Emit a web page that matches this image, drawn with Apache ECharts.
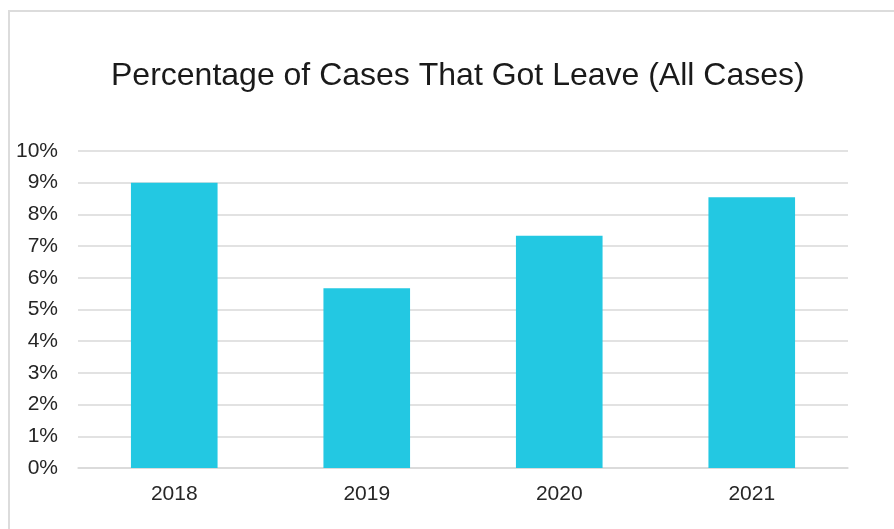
<!DOCTYPE html>
<html>
<head>
<meta charset="utf-8">
<script src="https://cdn.jsdelivr.net/npm/echarts@6/dist/echarts.min.js"></script>
<style>
html,body{margin:0;padding:0;background:#fff;}
#frame{position:absolute;left:8px;top:10px;width:900px;height:540px;border:2px solid #dcdcdc;box-sizing:border-box;}
#chart{position:absolute;left:0;top:0;width:894px;height:529px;}
</style>
</head>
<body>
<div id="frame"></div>
<div id="chart"></div>
<script>
const categories = ['2018', '2019', '2020', '2021'];
const values = [9.0, 5.67, 7.33, 8.54];
const yTicks = [0, 1, 2, 3, 4, 5, 6, 7, 8, 9, 10];

const chart = echarts.init(document.getElementById('chart'));
chart.setOption({
  animation: false,
  title: {
    text: 'Percentage of Cases That Got Leave (All Cases)',
    left: 106, top: 55,
    textStyle: {fontFamily: 'Liberation Sans, Arial, sans-serif', fontSize: 32, fontWeight: 'normal', color: '#1a1a1a'}
  },
  grid: {left: 78, right: 46, top: 151, bottom: 61, containLabel: false},
  xAxis: {
    type: 'category', data: categories,
    axisLine: {show: true, lineStyle: {color: '#d9d9d9', width: 1.5}},
    axisTick: {show: false},
    axisLabel: {margin: 16, fontFamily: 'Liberation Sans, Arial, sans-serif', fontSize: 21, color: '#262626'}
  },
  yAxis: {
    type: 'value', min: yTicks[0], max: yTicks[yTicks.length - 1], interval: 1,
    axisLine: {show: false}, axisTick: {show: false},
    splitLine: {lineStyle: {color: '#d9d9d9', width: 1.5}},
    axisLabel: {margin: 20, formatter: '{value}%', fontFamily: 'Liberation Sans, Arial, sans-serif', fontSize: 21, color: '#262626'}
  },
  series: [{
    type: 'bar', data: values, barWidth: '45%',
    itemStyle: {color: '#23C8E2'}
  }]
});
</script>
</body>
</html>
